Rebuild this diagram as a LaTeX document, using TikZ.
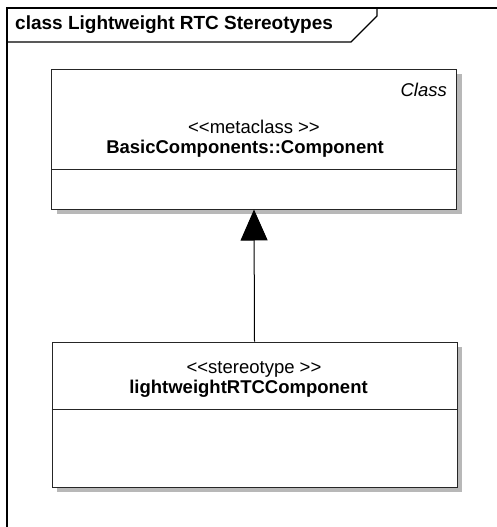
\documentclass[tikz,border=0pt]{standalone}
\usepackage{fontspec}
\setmainfont{Liberation Sans}
\usetikzlibrary{arrows.meta,positioning,shadows}

\begin{document}
\begin{tikzpicture}[x=1pt,y=-1pt,font=\fontsize{18.5}{22}\selectfont,
    umlbox/.style={draw=black!85,line width=1pt,fill=white,
                   drop shadow={shadow xshift=5pt,shadow yshift=-5pt,
                                fill=black!28,opacity=1},
                   minimum width=405pt,inner sep=0pt},
    lbl/.style={anchor=base,inner sep=0pt},
    gen/.style={draw=black,line width=1pt,-{Triangle[width=27pt,length=31pt]}}]
  \clip (0,0) rectangle (497,527);
  \fill[white] (0,0) rectangle (497,527);

  % diagram frame
  \draw[line width=1.1pt] (7,8) rectangle (520,560);
  \draw[line width=1.1pt] (7,42) -- (351,42) -- (377,16) -- (377,8);
  \node[lbl,anchor=base west,font=\fontsize{19}{22}\selectfont\bfseries] (title)
    at (15,30) {class Lightweight RTC Stereotypes};

  \node[umlbox,minimum height=140pt] (meta) at (254,139) {};
  \node[umlbox,minimum height=145pt] (stereo) at (254.5,414.5) {};
  \draw[line width=1pt,draw=black!85]
    ([yshift=40pt]meta.south west) -- ([yshift=40pt]meta.south east);
  \draw[line width=1pt,draw=black!85]
    ([yshift=78pt]stereo.south west) -- ([yshift=78pt]stereo.south east);

  \node[lbl,anchor=base east,font=\fontsize{18.5}{22}\selectfont\itshape] (metakind)
    at (447,96) {Class};
  \node[lbl] (metatag) at (254,133) {<{}<metaclass >{}>};
  \node[lbl,font=\fontsize{18.5}{22}\selectfont\bfseries] (metaname)
    at (245,153) {BasicComponents::Component};

  \node[lbl] (stereotag) at (254,373) {<{}<stereotype >{}>};
  \node[lbl,font=\fontsize{18.5}{22}\selectfont\bfseries] (stereoname)
    at (248.5,393) {lightweightRTCComponent};

  \draw[gen] (stereo.north) -- (meta.south);
\end{tikzpicture}
\end{document}
